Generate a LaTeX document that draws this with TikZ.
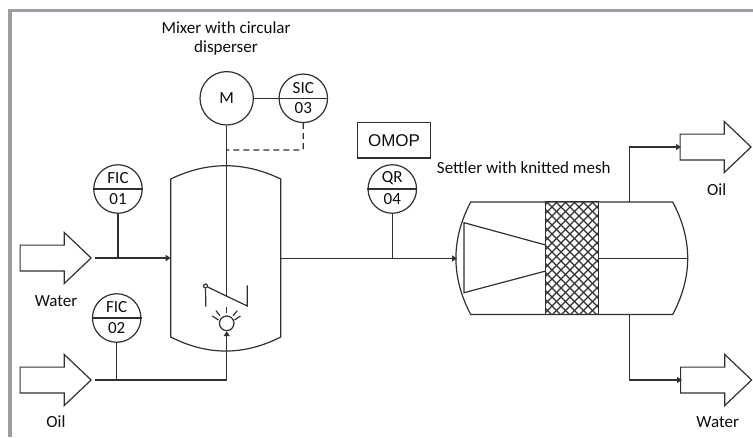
\documentclass[tikz,border=0pt]{standalone}
\usepackage{fontspec}
\setmainfont{Carlito}
\newfontfamily\omopfont{Liberation Sans}
\usetikzlibrary{arrows.meta,shapes.arrows}
\definecolor{ink}{HTML}{303030}
\definecolor{framegray}{HTML}{9C9CA2}
\tikzset{
  line/.style={draw=ink,line width=1.2pt},
  flow/.style={line,-{Triangle[length=5pt,width=6pt]}},
  inst/.style={circle,line,minimum size=48.5pt,inner sep=0pt},
  lbl/.style={font=\fontsize{17}{18}\selectfont,text=black!95,inner sep=0pt},
  bigarrow/.style={single arrow,line,fill=white,inner sep=0pt,minimum height=71pt,text height=24.6pt,text depth=0pt,text width=0pt,
    single arrow head extend=12.6pt,single arrow tip angle=87,anchor=tip},
}
\begin{document}
\begin{tikzpicture}[x=1pt,y=-1pt]
\useasboundingbox (0,0) rectangle (753,437);
% frame
\fill[framegray] (8,9) rectangle (753,12);
\fill[framegray] (8,9) rectangle (12,437);
% mixer vessel
\draw[line] (170.7,179) .. controls (207.4,161.3) and (244,161.3) .. (280.7,179) -- (280.7,337)
  .. controls (244,355.7) and (207.4,355.7) .. (170.7,337) -- cycle;
% settler
\draw[line] (470.7,202) -- (672.7,202) .. controls (692.7,239.5) and (692.7,277) .. (672.7,314.5)
  -- (470.7,314.5) .. controls (451,277) and (451,239.5) .. cycle;
% mesh
\node[rectangle,minimum width=52.6pt,minimum height=112.5pt,inner sep=0pt] (mesh) at (572,258.25) {};
\begin{scope}
\clip (mesh.south west) rectangle (mesh.north east);
\foreach \i in {0,...,20}{
  \draw[ink,line width=1.1pt] (430+9*\i,202) -- ++(113,113);
  \draw[ink,line width=1.1pt] (530+9*\i,202) -- ++(-113,113);
}
\end{scope}
\draw[line] (mesh.south west) rectangle (mesh.north east);
% cone
\coordinate (c1) at (464,222.7);
\coordinate (c2) at (464,292.7);
\coordinate (c3) at (545.7,245);
\coordinate (c4) at (545.7,271);
\draw[line] (c3) -- (c1) -- (c2) -- (c4);
\coordinate (setR) at (687.7,258.5);
\draw[line] (598.3,258.5) -- (setR);
% stream arrows
\node[bigarrow] (waterin) at (92,258) {};
\node[bigarrow] (oilin) at (92,380) {};
\node[bigarrow] (oilout) at (752,147) {};
\node[bigarrow] (waterout) at (752.5,380) {};
% instruments
\node[circle,line,minimum size=53.4pt,inner sep=0pt,font=\fontsize{17}{18}\selectfont,text=black!95] (M) at (226.7,98.3) {M};
\foreach \n/\x/\y/\a/\b in {fic1/118/189/FIC/01,fic2/116.7/318/FIC/02,sic/303.3/98.3/SIC/03,qr/392.3/189/QR/04}{
  \node[inst] (\n) at (\x,\y) {};
  \draw[line] (\n.west) -- (\n.east);
  \node[lbl] (\n a) at (\x,\y-10.5) {\a};
  \node[lbl] (\n b) at (\x,\y+10) {\b};
}
\node[rectangle,line,minimum width=73.4pt,minimum height=35.3pt,inner sep=0pt,text=black!95,
  font=\omopfont\fontsize{17}{18}\selectfont] (omop) at (394,140.3) {OMOP};
% connectors
\coordinate (wStart) at (95,258);
\coordinate (vesL) at (170.7,258);
\coordinate (j1) at (118,258);
\draw[flow] (wStart) -- (vesL);
\draw[line] (fic1.south) -- (j1);
\coordinate (oStart) at (95,380);
\coordinate (j2) at (116.7,380);
\coordinate (jb) at (226.7,380);
\draw[line] (fic2.south) -- (j2);
\draw[line] (M.east) -- (sic.west);
\coordinate (shaftEnd) at (226.7,296.5);
\draw[line] (M.south) -- (shaftEnd);
\coordinate (dashC) at (303.3,150);
\coordinate (dashE) at (226.7,150);
\draw[line,dash pattern=on 6pt off 4pt,rounded corners=1.5pt] (sic.south) -- (dashC) -- (dashE);
% agitator
\node[circle,line,minimum size=4pt,inner sep=0pt] (piv) at (205.5,286) {};
\coordinate (b1) at (205.8,306.7);
\coordinate (b2) at (247.3,306);
\coordinate (b3) at (247.3,285.3);
\draw[line] (piv) -- (b1);
\draw[line] (piv) -- (b2) -- (b3);
% disperser
\node[circle,line,minimum size=14.6pt,inner sep=0pt] (disp) at (226.7,323.3) {};
\draw[flow] (oStart) -- (jb) -- (disp.south);
\draw[line] (226.7,306.7) -- (226.7,313);
\draw[line] (216,310.7) -- (220,315.7);
\draw[line] (237.3,310.7) -- (233,315.7);
\draw[line] (212.3,316) -- (218.5,320);
\draw[line] (240.5,316) -- (234.5,320);
% pipe to settler
\coordinate (vesR) at (280.7,258.5);
\coordinate (setL) at (457,258.5);
\coordinate (j3) at (392.3,258.5);
\draw[flow] (vesR) -- (setL);
\draw[line] (qr.south) -- (j3);
% outlets
\coordinate (topO) at (629.3,202);
\coordinate (botO) at (629.3,314.5);
\coordinate (oilEnd) at (681,147);
\coordinate (watEnd) at (682,380);
\draw[flow] (topO) |- (oilEnd);
\draw[flow] (botO) |- (watEnd);
% labels
\node[lbl] (t1) at (226,27.7) {Mixer with circular};
\node[lbl] (t2) at (226,47.7) {disperser};
\node[lbl] (t3) at (523.8,168) {Settler with knitted mesh};
\node[lbl] (t4) at (56,301) {Water};
\node[lbl] (t5) at (56,422) {Oil};
\node[lbl] (t6) at (716.7,189.3) {Oil};
\node[lbl] (t7) at (717.7,422) {Water};
\end{tikzpicture}
\end{document}
